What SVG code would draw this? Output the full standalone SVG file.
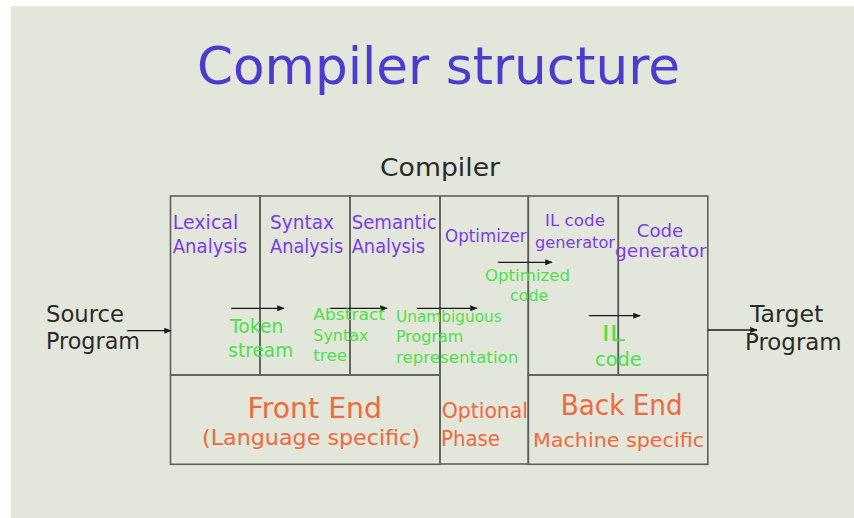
<svg xmlns="http://www.w3.org/2000/svg" width="854" height="518" viewBox="0 0 854 518">
  <style>
    .cell { fill: none; stroke: #5e625c; stroke-width: 1.6; }
    .title { font-family: "DejaVu Sans", "Liberation Sans", sans-serif; fill: #4a3ccd; }
    .black { font-family: "DejaVu Sans", "Liberation Sans", sans-serif; fill: #2a2a2a; }
    .phase { font-family: "DejaVu Sans", "Liberation Sans", sans-serif; fill: #7a3ee0; }
    .data { font-family: "DejaVu Sans", "Liberation Sans", sans-serif; fill: #4fe04a; }
    .part { font-family: "DejaVu Sans", "Liberation Sans", sans-serif; fill: #ee6a3c; }
    .flow { stroke: #1a1a1a; stroke-width: 1.3; fill: none; marker-end: url(#head); }
  </style>
  <defs>
    <marker id="head" viewBox="0 0 10 8" refX="9" refY="4" markerWidth="8" markerHeight="6" markerUnits="userSpaceOnUse" orient="auto">
      <path d="M0,0 L10,4 L0,8 Z" fill="#1a1a1a"/>
    </marker>
  </defs>

  <!-- slide background -->
  <rect x="0" y="0" width="854" height="518" fill="#ffffff"/>
  <rect x="11" y="6" width="843" height="512" fill="#e3e6db"/>

  <!-- headings -->
  <text class="title" x="197" y="84" font-size="52" textLength="483" lengthAdjust="spacingAndGlyphs">Compiler structure</text>
  <text class="black" x="380" y="176" font-size="24" textLength="120" lengthAdjust="spacingAndGlyphs">Compiler</text>

  <!-- phases of the compiler -->
  <g id="lexical-analysis">
    <rect class="cell" x="170.5" y="196" width="89.5" height="179"/>
    <text class="phase" x="172.7" y="229" font-size="19" textLength="65.6" lengthAdjust="spacingAndGlyphs">Lexical</text>
    <text class="phase" x="172.7" y="252.5" font-size="19" textLength="74.6" lengthAdjust="spacingAndGlyphs">Analysis</text>
  </g>
  <g id="syntax-analysis">
    <rect class="cell" x="260" y="196" width="90" height="179"/>
    <text class="phase" x="270" y="229" font-size="19" textLength="64" lengthAdjust="spacingAndGlyphs">Syntax</text>
    <text class="phase" x="270" y="252.5" font-size="19" textLength="73.3" lengthAdjust="spacingAndGlyphs">Analysis</text>
  </g>
  <g id="semantic-analysis">
    <rect class="cell" x="350" y="196" width="90" height="179"/>
    <text class="phase" x="351.7" y="229" font-size="19" textLength="85" lengthAdjust="spacingAndGlyphs">Semantic</text>
    <text class="phase" x="351.7" y="252.5" font-size="19" textLength="73.3" lengthAdjust="spacingAndGlyphs">Analysis</text>
  </g>
  <g id="optimizer">
    <rect class="cell" x="440" y="196" width="88.3" height="268"/>
    <text class="phase" x="445" y="241.7" font-size="17" textLength="81.7" lengthAdjust="spacingAndGlyphs">Optimizer</text>
  </g>
  <g id="il-code-generator">
    <rect class="cell" x="528.3" y="196" width="90" height="179"/>
    <text class="phase" x="545" y="226" font-size="16" textLength="60" lengthAdjust="spacingAndGlyphs">IL code</text>
    <text class="phase" x="535" y="248.3" font-size="16" textLength="80" lengthAdjust="spacingAndGlyphs">generator</text>
  </g>
  <g id="code-generator">
    <rect class="cell" x="618.3" y="196" width="89.5" height="179"/>
    <text class="phase" x="636.7" y="236.7" font-size="18" textLength="46.6" lengthAdjust="spacingAndGlyphs">Code</text>
    <text class="phase" x="615" y="256.7" font-size="18" textLength="91.7" lengthAdjust="spacingAndGlyphs">generator</text>
  </g>

  <!-- groupings of the phases -->
  <g id="front-end">
    <rect class="cell" x="170.5" y="375" width="269.5" height="89.3"/>
    <text class="part" x="247.5" y="418" font-size="28" textLength="134.5" lengthAdjust="spacingAndGlyphs">Front End</text>
    <text class="part" x="202" y="445" font-size="22" textLength="218" lengthAdjust="spacingAndGlyphs">(Language specific)</text>
  </g>
  <g id="optional-phase">
    <text class="part" x="441.7" y="418" font-size="21" textLength="86.3" lengthAdjust="spacingAndGlyphs">Optional</text>
    <text class="part" x="441" y="446" font-size="21" textLength="59" lengthAdjust="spacingAndGlyphs">Phase</text>
  </g>
  <g id="back-end">
    <rect class="cell" x="528.3" y="375" width="179.5" height="89.3"/>
    <text class="part" x="560.7" y="415" font-size="28" textLength="122" lengthAdjust="spacingAndGlyphs">Back End</text>
    <text class="part" x="533" y="447" font-size="20" textLength="171" lengthAdjust="spacingAndGlyphs">Machine specific</text>
  </g>

  <!-- input and output -->
  <g id="source-program">
    <text class="black" x="46" y="321.7" font-size="23" textLength="78" lengthAdjust="spacingAndGlyphs">Source</text>
    <text class="black" x="46" y="349" font-size="23" textLength="94" lengthAdjust="spacingAndGlyphs">Program</text>
  </g>
  <g id="target-program">
    <text class="black" x="750" y="321.7" font-size="23" textLength="73.3" lengthAdjust="spacingAndGlyphs">Target</text>
    <text class="black" x="745" y="350" font-size="23" textLength="96.7" lengthAdjust="spacingAndGlyphs">Program</text>
  </g>

  <!-- data flowing between phases -->
  <g id="connectors">
    <line class="flow" x1="127" y1="330.7" x2="171" y2="330.7"/>
    <line class="flow" x1="231" y1="308.3" x2="284" y2="308.3"/>
    <line class="flow" x1="330" y1="308.3" x2="387" y2="308.3"/>
    <line class="flow" x1="417" y1="308.3" x2="477" y2="308.3"/>
    <line class="flow" x1="498" y1="262.3" x2="552" y2="262.3"/>
    <line class="flow" x1="589" y1="315.7" x2="640" y2="315.7"/>
    <line class="flow" x1="708" y1="330" x2="757" y2="330"/>

    <text class="data" x="230" y="333.3" font-size="19" textLength="53.3" lengthAdjust="spacingAndGlyphs">Token</text>
    <text class="data" x="228.3" y="356.7" font-size="19" textLength="65" lengthAdjust="spacingAndGlyphs">stream</text>

    <text class="data" x="313.3" y="320" font-size="16" textLength="71.7" lengthAdjust="spacingAndGlyphs">Abstract</text>
    <text class="data" x="313.3" y="340.7" font-size="16" textLength="55" lengthAdjust="spacingAndGlyphs">Syntax</text>
    <text class="data" x="313.3" y="360.7" font-size="16" textLength="33.7" lengthAdjust="spacingAndGlyphs">tree</text>

    <text class="data" x="396" y="322" font-size="16" textLength="105.7" lengthAdjust="spacingAndGlyphs">Unambiguous</text>
    <text class="data" x="396" y="342" font-size="16" textLength="67.3" lengthAdjust="spacingAndGlyphs">Program</text>
    <text class="data" x="396" y="363" font-size="16" textLength="122.3" lengthAdjust="spacingAndGlyphs">representation</text>

    <text class="data" x="485" y="280.7" font-size="16" textLength="85" lengthAdjust="spacingAndGlyphs">Optimized</text>
    <text class="data" x="510" y="300.7" font-size="16" textLength="38.3" lengthAdjust="spacingAndGlyphs">code</text>

    <text class="data" x="601.7" y="341" font-size="22" textLength="23.3" lengthAdjust="spacingAndGlyphs">IL</text>
    <text class="data" x="595" y="366" font-size="19" textLength="46.7" lengthAdjust="spacingAndGlyphs">code</text>
  </g>
</svg>
